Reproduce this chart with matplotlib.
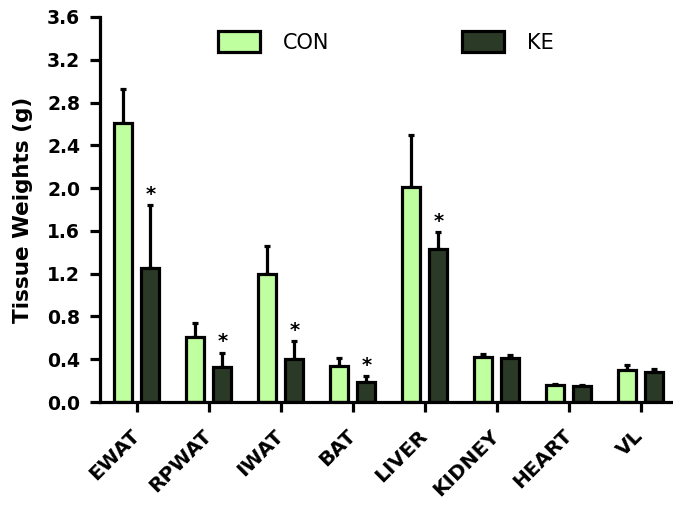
import matplotlib
matplotlib.use("Agg")
import matplotlib.pyplot as plt
import matplotlib.transforms as mtransforms
import numpy as np

categories = ["EWAT", "RPWAT", "IWAT", "BAT", "LIVER", "KIDNEY", "HEART", "VL"]
con_mean = [2.61, 0.61, 1.20, 0.34, 2.01, 0.42, 0.16, 0.30]
con_err = [0.32, 0.13, 0.26, 0.07, 0.49, 0.03, 0.01, 0.05]
ke_mean = [1.25, 0.33, 0.40, 0.19, 1.43, 0.41, 0.15, 0.28]
ke_err = [0.59, 0.13, 0.17, 0.05, 0.16, 0.03, 0.01, 0.03]
significant = [True, True, True, True, True, False, False, False]
y_ticks = [0.0, 0.4, 0.8, 1.2, 1.6, 2.0, 2.4, 2.8, 3.2, 3.6]

con_color = "#c0ffa0"
ke_color = "#2b3a26"

plt.rcParams['font.family'] = ['DejaVu Sans']

fig = plt.figure(figsize=(6.73, 5.16), dpi=100)
ax = fig.add_axes([100/673, 1-402/516, 1-100/673, (402-17)/516])

x = np.arange(len(categories))
w = 0.25
off = 0.19
lw = 2.3

b1 = ax.bar(x - off, con_mean, w, color=con_color, edgecolor="black", linewidth=lw, label="CON", zorder=2)
b2 = ax.bar(x + off, ke_mean, w, color=ke_color, edgecolor="black", linewidth=lw, label="KE", zorder=2)
ax.errorbar(x - off, con_mean, yerr=[np.zeros(len(x)), con_err], fmt='none', ecolor='black',
            elinewidth=lw, capsize=2.5, capthick=lw, zorder=1)
ax.errorbar(x + off, ke_mean, yerr=[np.zeros(len(x)), ke_err], fmt='none', ecolor='black',
            elinewidth=lw, capsize=2.5, capthick=lw, zorder=1)

for i, s in enumerate(significant):
    if s:
        ax.annotate("*", (x[i] + off, ke_mean[i] + ke_err[i]), xytext=(0, 1), textcoords="offset points",
                    ha="center", va="bottom", fontsize=14, fontweight="bold")

ax.set_ylim(0, 3.6)
ax.set_xlim(-0.51, 7.45)
ax.set_yticks(y_ticks)
ax.set_yticklabels([f"{v:.1f}" for v in y_ticks], fontsize=13.5, fontweight="bold")
ax.set_xticks(x)
ax.set_xticklabels(categories, fontsize=14.5, fontweight="bold", rotation=45,
                   ha="right", rotation_mode="anchor", va="center")
shift = mtransforms.ScaledTranslation(6/100, 0, fig.dpi_scale_trans)
for lab in ax.get_xticklabels():
    lab.set_transform(lab.get_transform() + shift)
ax.tick_params(axis="both", length=7.2, width=lw, direction="out")
ax.tick_params(axis="y", pad=7)
ax.tick_params(axis="x", pad=15)
for sp in ["top", "right"]:
    ax.spines[sp].set_visible(False)
for sp in ["left", "bottom"]:
    ax.spines[sp].set_linewidth(lw)
ax.spines["left"].set_bounds(0, 3.6)

ax.set_ylabel("Tissue Weights (g)", fontsize=15.5, fontweight="bold", labelpad=10)

fig.legend(handles=[b1, b2], labels=["CON", "KE"], loc="upper left",
           bbox_to_anchor=(218/673, 1-31/516), frameon=False, ncol=2, fontsize=15,
           borderpad=0, borderaxespad=0, handlelength=2.0, handleheight=1.2,
           handletextpad=1.1, columnspacing=6.4)

fig.savefig("out.png", dpi=100)
